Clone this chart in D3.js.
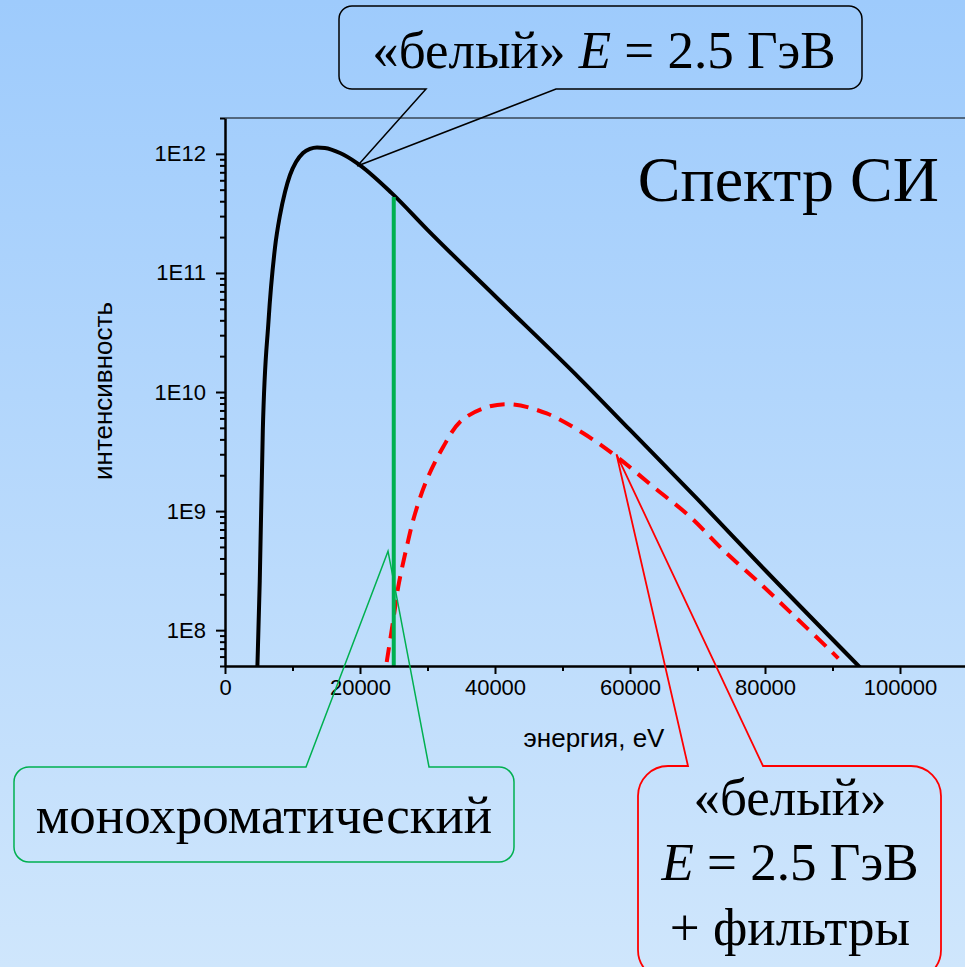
<!DOCTYPE html>
<html>
<head>
<meta charset="utf-8">
<script src="https://cdn.jsdelivr.net/npm/d3@7"></script>
<style>
  html, body { margin: 0; padding: 0; overflow: hidden; }
  svg { display: block; }
</style>
</head>
<body>
<svg id="chart" width="965" height="967"></svg>
<script>
// ---------- data ----------
const xTickValues = [0, 20000, 40000, 60000, 80000, 100000];
const yTickExponents = [8, 9, 10, 11, 12];

// white SR spectrum, E = 2.5 GeV (energy eV, intensity)
const whiteEnergy = [4750, 4800, 5150, 5600, 6440, 7400, 8150, 8890, 9630, 10520, 11560, 12590, 13630, 14800, 17040, 19560, 24700, 30000, 40000, 52600, 60000, 70000, 80000, 94500];
const whiteIntensity = [4.0e7, 5.0e7, 2.6e8, 4.7e9, 3.9e10, 1.62e11, 3.06e11, 4.78e11, 6.64e11, 8.53e11, 1.016e12, 1.10e12, 1.13e12, 1.12e12, 1.016e12, 8.37e11, 4.68e11, 2.3e11, 6.4e10, 1.29e10, 4.8e9, 1.26e9, 3.2e8, 4.6e7];

// white + filters
const filteredEnergy = [23960, 24930, 25670, 26920, 28150, 29880, 32340, 34810, 38270, 42220, 47660, 53080, 58030, 63450, 68890, 73820, 79260, 84190, 89630, 90860];
const filteredIntensity = [5.4e7, 1.22e8, 2.32e8, 5.0e8, 9.5e8, 1.82e9, 3.47e9, 5.6e9, 7.3e9, 7.9e9, 6.6e9, 4.5e9, 2.86e9, 1.6e9, 8.97e8, 4.7e8, 2.47e8, 1.34e8, 6.8e7, 5.8e7];

// monochromatic line
const monoEnergy = [25000, 25000];
const monoIntensity = [4.34e11, 5.0e7];

// callout anchor points (energy, intensity)
const whiteAnchor = [19600, 7.9e11];
const monoAnchor = [24150, 4.6e8];
const filteredAnchor = [58000, 3.0e9];

const xDomain = [0, 110000];
const yDomain = [5e7, 2e12];

// ---------- layout ----------
const W = 965, H = 967;
const plot = { left: 225, right: 967.5, top: 118, bottom: 666 };
const svg = d3.select("#chart");

const defs = svg.append("defs");
const grad = defs.append("linearGradient").attr("id", "bg").attr("x1", 0).attr("y1", 0).attr("x2", 0).attr("y2", 1);
grad.append("stop").attr("offset", "0%").attr("stop-color", "#9ecbfc");
grad.append("stop").attr("offset", "100%").attr("stop-color", "#cfe6fc");
svg.append("rect").attr("width", W).attr("height", H).attr("fill", "url(#bg)");

defs.append("clipPath").attr("id", "plotclip").append("rect")
  .attr("x", plot.left).attr("y", plot.top)
  .attr("width", plot.right - plot.left).attr("height", plot.bottom - plot.top);

const x = d3.scaleLinear().domain(xDomain).range([plot.left, plot.right]);
const y = d3.scaleLog().domain(yDomain).range([plot.bottom, plot.top]);

const sans = "'Liberation Sans', Arial, sans-serif";
const serif = "'Liberation Serif', 'Times New Roman', serif";

// top frame line
svg.append("line").attr("x1", plot.left).attr("x2", plot.right)
  .attr("y1", plot.top).attr("y2", plot.top).attr("stroke", "#000").attr("stroke-width", 1);

// ---------- curves ----------
const line = d3.line().x(d => x(d[0])).y(d => y(d[1])).curve(d3.curveMonotoneX);
const smoothLine = d3.line().x(d => x(d[0])).y(d => y(d[1])).curve(d3.curveCatmullRom.alpha(0.5));
const gPlot = svg.append("g").attr("clip-path", "url(#plotclip)");

gPlot.append("path")
  .datum(filteredEnergy.map((e, i) => [e, filteredIntensity[i]]))
  .attr("d", smoothLine).attr("fill", "none").attr("stroke", "#ff0000")
  .attr("stroke-width", 4).attr("stroke-dasharray", "15,9");

gPlot.append("path")
  .datum(whiteEnergy.map((e, i) => [e, whiteIntensity[i]]))
  .attr("d", line).attr("fill", "none").attr("stroke", "#000")
  .attr("stroke-width", 4).attr("stroke-linejoin", "round");

gPlot.append("path")
  .datum(monoEnergy.map((e, i) => [e, monoIntensity[i]]))
  .attr("d", d3.line().x(d => x(d[0])).y(d => y(d[1])))
  .attr("fill", "none").attr("stroke", "#00b050").attr("stroke-width", 4);

// ---------- axes ----------
const xMinor = d3.range(xDomain[0], xDomain[1] + 1, 10000);
const xAxis = d3.axisBottom(x).tickValues(xMinor).tickSizeOuter(0)
  .tickFormat(d => xTickValues.includes(d) ? String(d) : "");
const gx = svg.append("g").attr("transform", `translate(0,${plot.bottom})`).call(xAxis);
gx.select(".domain").attr("stroke-width", 2.5);
gx.selectAll(".tick line").attr("stroke-width", 2)
  .attr("y2", d => xTickValues.includes(d) ? 8 : 5);
gx.selectAll(".tick text").attr("font-family", sans).attr("font-size", 22)
  .attr("fill", "#000").attr("y", 13).attr("dy", "0.71em");

const yTicks = [];
for (let e = 7; e <= 12; e++) for (let m = 1; m <= 9; m++) {
  const v = m * Math.pow(10, e);
  if (v >= yDomain[0] && v <= yDomain[1]) yTicks.push(v);
}
const isMajor = v => yTickExponents.some(e => Math.abs(v - Math.pow(10, e)) < 1);
const yAxis = d3.axisLeft(y).tickValues(yTicks).tickSizeOuter(0)
  .tickFormat(v => isMajor(v) ? "1E" + Math.round(Math.log10(v)) : "");
const gy = svg.append("g").attr("transform", `translate(${plot.left},0)`).call(yAxis);
gy.select(".domain").attr("stroke-width", 2.5);
gy.selectAll(".tick line").attr("stroke-width", 2)
  .attr("x2", v => isMajor(v) ? -9 : -5);
gy.selectAll(".tick text").attr("font-family", sans).attr("font-size", 22)
  .attr("fill", "#000").attr("x", -19);

// axis titles
svg.append("text").attr("x", 594).attr("y", 747).attr("text-anchor", "middle")
  .attr("font-family", sans).attr("font-size", 26).text("энергия, eV");
svg.append("text").attr("transform", "translate(112,391) rotate(-90)")
  .attr("text-anchor", "middle").attr("font-family", sans).attr("font-size", 26)
  .text("интенсивность");

// title
svg.append("text").attr("x", 939).attr("y", 201).attr("text-anchor", "end")
  .attr("font-family", serif).attr("font-size", 64).text("Спектр СИ");

// ---------- callouts ----------
function calloutTop(b, r, bx0, bx1, tip) {
  // pointer leaves from the top edge
  return `M${b.x0 + r},${b.y0} L${bx0},${b.y0} L${tip[0]},${tip[1]} L${bx1},${b.y0} L${b.x1 - r},${b.y0}
    A${r},${r} 0 0 1 ${b.x1},${b.y0 + r} L${b.x1},${b.y1 - r} A${r},${r} 0 0 1 ${b.x1 - r},${b.y1}
    L${b.x0 + r},${b.y1} A${r},${r} 0 0 1 ${b.x0},${b.y1 - r} L${b.x0},${b.y0 + r}
    A${r},${r} 0 0 1 ${b.x0 + r},${b.y0} Z`;
}
function calloutBottom(b, r, bx0, bx1, tip) {
  return `M${b.x0 + r},${b.y0} L${b.x1 - r},${b.y0} A${r},${r} 0 0 1 ${b.x1},${b.y0 + r}
    L${b.x1},${b.y1 - r} A${r},${r} 0 0 1 ${b.x1 - r},${b.y1} L${bx1},${b.y1} L${tip[0]},${tip[1]}
    L${bx0},${b.y1} L${b.x0 + r},${b.y1} A${r},${r} 0 0 1 ${b.x0},${b.y1 - r}
    L${b.x0},${b.y0 + r} A${r},${r} 0 0 1 ${b.x0 + r},${b.y0} Z`;
}
const px = a => [x(a[0]), y(a[1])];

// top: white beam
svg.append("path")
  .attr("d", calloutBottom({ x0: 339, y0: 6, x1: 862, y1: 89 }, 13, 426, 556, px(whiteAnchor)))
  .attr("fill", "none").attr("stroke", "#000").attr("stroke-width", 1.5);
const t1 = svg.append("text").attr("x", 604).attr("y", 68).attr("text-anchor", "middle")
  .attr("font-family", serif).attr("font-size", 53);
t1.append("tspan").text("«белый» ");
t1.append("tspan").attr("font-style", "italic").text("E");
t1.append("tspan").text(" = 2.5 ГэВ");

// green: monochromatic
svg.append("path")
  .attr("d", calloutTop({ x0: 14, y0: 767, x1: 514, y1: 862 }, 15, 306, 429, px(monoAnchor)))
  .attr("fill", "none").attr("stroke", "#00b050").attr("stroke-width", 1.5);
svg.append("text").attr("x", 264).attr("y", 833).attr("text-anchor", "middle")
  .attr("font-family", serif).attr("font-size", 53).text("монохроматический");

// red: white + filters
svg.append("path")
  .attr("d", calloutTop({ x0: 638, y0: 766, x1: 941, y1: 980 }, 30, 688, 763, px(filteredAnchor)))
  .attr("fill", "none").attr("stroke", "#ff0000").attr("stroke-width", 1.8);
const t2 = svg.append("text").attr("text-anchor", "middle").attr("font-family", serif).attr("font-size", 53);
t2.append("tspan").attr("x", 790).attr("y", 815).text("«белый»");
const l2 = t2.append("tspan").attr("x", 790).attr("y", 880);
l2.append("tspan").attr("font-style", "italic").text("E");
t2.append("tspan").text(" = 2.5 ГэВ");
t2.append("tspan").attr("x", 790).attr("y", 945).text("+ фильтры");
</script>
</body>
</html>
